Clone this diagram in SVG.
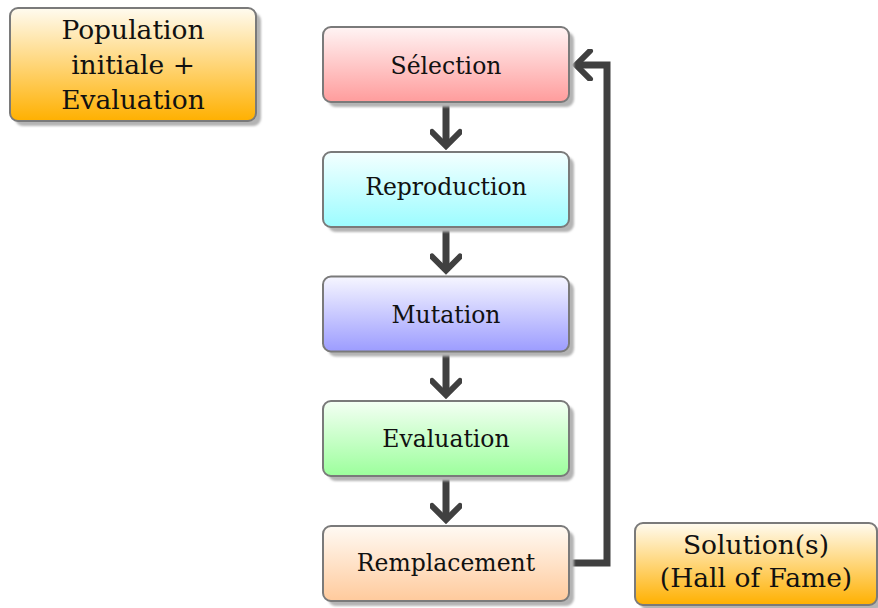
<svg xmlns="http://www.w3.org/2000/svg" width="878" height="608" viewBox="0 0 878 608">
<style>
.box{stroke:#7a7a7a;stroke-width:2}
.sh{fill:#b4b4b4}
.lbl{font-family:"DejaVu Serif","Liberation Serif",serif;font-size:23.5px;fill:#111;text-anchor:middle}
.big{font-family:"DejaVu Serif","Liberation Serif",serif;font-size:26.5px;fill:#111;text-anchor:middle}
.conn{fill:none;stroke:#404040;stroke-width:7}
</style>
<defs>
<filter id="blur" x="-10%" y="-10%" width="120%" height="130%"><feGaussianBlur stdDeviation="1.2"/></filter>
<linearGradient id="gRed" x1="0" y1="0" x2="0" y2="1"><stop offset="0" stop-color="#fff4f4"/><stop offset="1" stop-color="#ff9c9c"/></linearGradient>
<linearGradient id="gCyan" x1="0" y1="0" x2="0" y2="1"><stop offset="0" stop-color="#f4ffff"/><stop offset="1" stop-color="#9cfcff"/></linearGradient>
<linearGradient id="gBlue" x1="0" y1="0" x2="0" y2="1"><stop offset="0" stop-color="#f6f6ff"/><stop offset="1" stop-color="#9c9cff"/></linearGradient>
<linearGradient id="gGreen" x1="0" y1="0" x2="0" y2="1"><stop offset="0" stop-color="#f4fff4"/><stop offset="1" stop-color="#9cff9c"/></linearGradient>
<linearGradient id="gPeach" x1="0" y1="0" x2="0" y2="1"><stop offset="0" stop-color="#fffaf4"/><stop offset="1" stop-color="#ffca9c"/></linearGradient>
<linearGradient id="gOrange" x1="0" y1="0" x2="0" y2="1"><stop offset="0" stop-color="#fffbf0"/><stop offset="1" stop-color="#ffb000"/></linearGradient>
<marker id="chev" markerUnits="userSpaceOnUse" viewBox="-20 -16 24 32" markerWidth="24" markerHeight="32" refX="0" refY="0" orient="auto">
<path d="M-14,-14 L0,0 L-14,14" fill="none" stroke="#404040" stroke-width="6" stroke-linecap="round" stroke-linejoin="miter"/>
</marker>
</defs>

<g id="connectors">
<path class="conn" d="M446,102 V146" marker-end="url(#chev)"/>
<path class="conn" d="M446,227 V270.5" marker-end="url(#chev)"/>
<path class="conn" d="M446,351.5 V395" marker-end="url(#chev)"/>
<path class="conn" d="M446,476 V520" marker-end="url(#chev)"/>
<path class="conn" d="M569,563 H607 V65 H576" marker-end="url(#chev)"/>
</g>

<g id="init">
<rect class="sh" x="15" y="13" width="246" height="113" rx="8" filter="url(#blur)"/>
<rect class="box" x="10" y="8" width="246" height="113" rx="8" fill="url(#gOrange)"/>
<text class="big" x="133" y="39">Population</text>
<text class="big" x="133" y="74">initiale +</text>
<text class="big" x="133" y="109">Evaluation</text>
</g>

<g id="selection">
<rect class="sh" x="328" y="32" width="246" height="75" rx="8" filter="url(#blur)"/>
<rect class="box" x="323" y="27" width="246" height="75" rx="8" fill="url(#gRed)"/>
<text class="lbl" x="446" y="74">Sélection</text>
</g>

<g id="reproduction">
<rect class="sh" x="328" y="157" width="246" height="75" rx="8" filter="url(#blur)"/>
<rect class="box" x="323" y="152" width="246" height="75" rx="8" fill="url(#gCyan)"/>
<text class="lbl" x="446" y="195">Reproduction</text>
</g>

<g id="mutation">
<rect class="sh" x="328" y="281.5" width="246" height="75" rx="8" filter="url(#blur)"/>
<rect class="box" x="323" y="276.5" width="246" height="75" rx="8" fill="url(#gBlue)"/>
<text class="lbl" x="446" y="323">Mutation</text>
</g>

<g id="evaluation">
<rect class="sh" x="328" y="406" width="246" height="75" rx="8" filter="url(#blur)"/>
<rect class="box" x="323" y="401" width="246" height="75" rx="8" fill="url(#gGreen)"/>
<text class="lbl" x="446" y="447">Evaluation</text>
</g>

<g id="remplacement">
<rect class="sh" x="328" y="531" width="246" height="75" rx="8" filter="url(#blur)"/>
<rect class="box" x="323" y="526" width="246" height="75" rx="8" fill="url(#gPeach)"/>
<text class="lbl" x="446" y="571">Remplacement</text>
</g>

<g id="solution">
<rect class="sh" x="640" y="528" width="242" height="82" rx="8" filter="url(#blur)"/>
<rect class="box" x="635" y="523" width="242" height="82" rx="8" fill="url(#gOrange)"/>
<text class="big" x="756" y="554">Solution(s)</text>
<text class="big" x="756" y="587">(Hall of Fame)</text>
</g>
</svg>
